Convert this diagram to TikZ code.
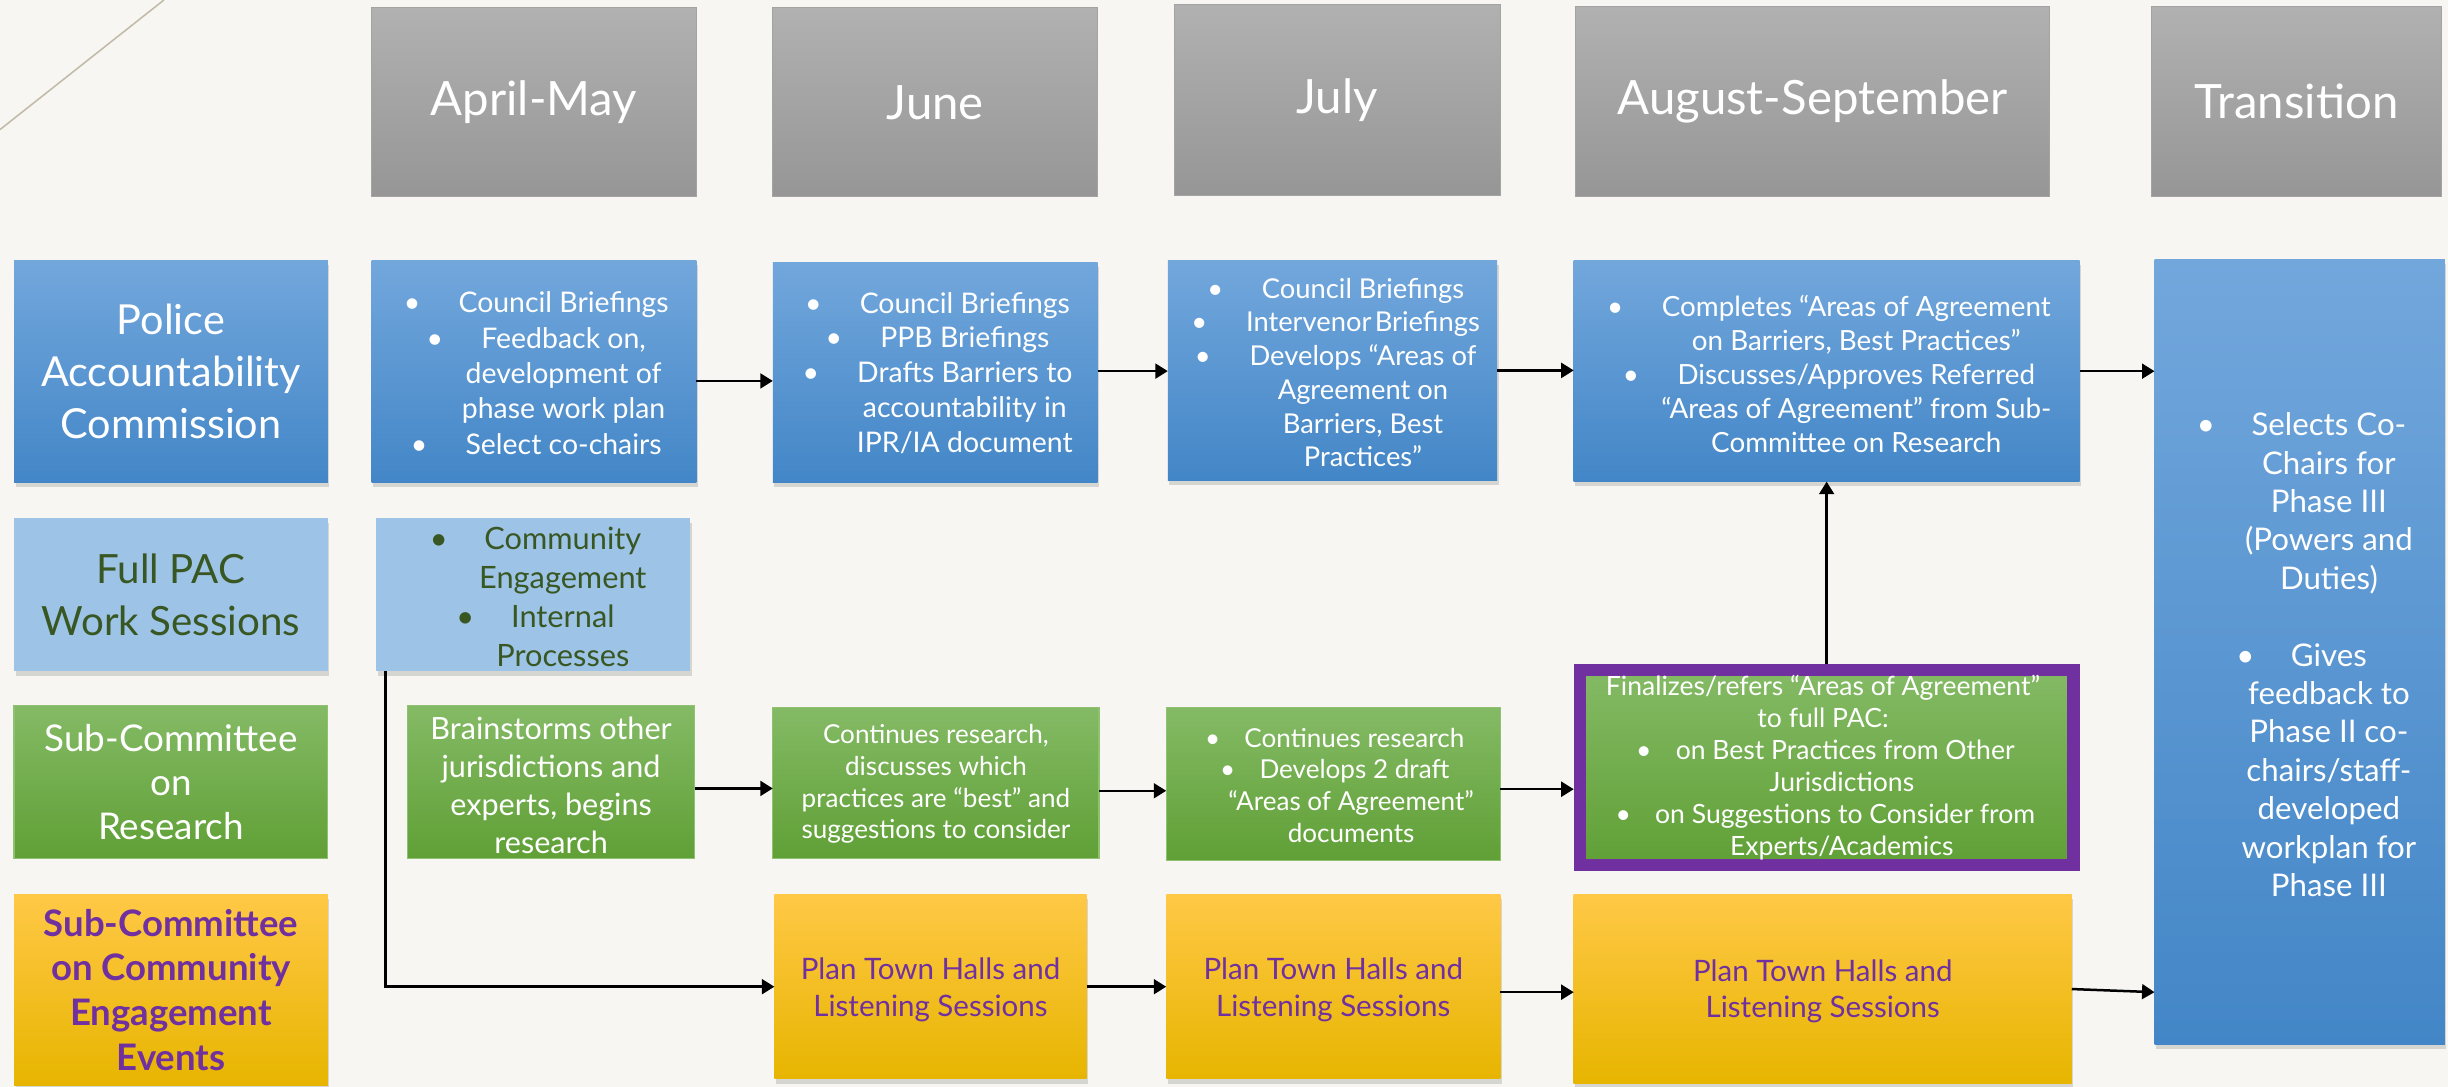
\documentclass[tikz,border=0pt]{standalone}
\usepackage{fontspec}
\setmainfont{Lato}
\usetikzlibrary{arrows.meta,shadows}
\definecolor{bg}{HTML}{F7F6F2}
\definecolor{hdrT}{HTML}{B1B1B1}
\definecolor{hdrB}{HTML}{969696}
\definecolor{hdrL}{HTML}{A3A3A3}
\definecolor{bluT}{HTML}{72A7DC}
\definecolor{bluB}{HTML}{4386C7}
\definecolor{lblu}{HTML}{9DC3E6}
\definecolor{grnT}{HTML}{84BA65}
\definecolor{grnB}{HTML}{60A036}
\definecolor{grnL}{HTML}{8EC270}
\definecolor{ylwT}{HTML}{FFC846}
\definecolor{ylwB}{HTML}{E7B500}
\definecolor{purp}{HTML}{7030A0}
\definecolor{dgrn}{HTML}{385723}
\definecolor{diag}{HTML}{C2BBA8}
\newcommand{\bu}[1][35pt]{\llap{\makebox[#1][l]{\textbullet}}}
\begin{document}
\begin{tikzpicture}[x=1pt,y=-1pt,
  box/.style={inner sep=0pt, outer sep=0pt, anchor=center},
  shad/.style={drop shadow={opacity=0.28, shadow xshift=1pt, shadow yshift=-3pt}},
  hdr/.style={box, shading=axis, top color=hdrT, bottom color=hdrB, draw=hdrL, line width=0.6pt, text=white, font=\fontsize{30.3}{34}\selectfont},
  blu/.style={box, shad, shading=axis, top color=bluT, bottom color=bluB},
  lbl/.style={box, shad, fill=lblu},
  grn/.style={box, shading=axis, top color=grnT, bottom color=grnB, draw=grnL, line width=0.8pt},
  ylw/.style={box, shad, shading=axis, top color=ylwT, bottom color=ylwB},
  txt/.style={inner sep=0pt, outer sep=0pt, align=center, text=white},
  arr/.style={draw=black, line width=1.6pt, -{Triangle[length=8pt,width=9.5pt]}}
]
\useasboundingbox (0,0) rectangle (1568,696);
\fill[bg] (0,0) rectangle (1568,696);
\draw[diag, line width=1pt] (0,83) -- (105,0);

% headers
\node[hdr, minimum width=208pt, minimum height=121pt] (hAM) at (342,65.5) {April-May};
\node[hdr, minimum width=208pt, minimum height=121pt] (hJun) at (599,65.5) {June};
\node[hdr, minimum width=209pt, minimum height=122pt] (hJul) at (856.5,64) {July};
\node[hdr, minimum width=304pt, minimum height=122pt] (hAug) at (1161,65) {August-September};
\node[hdr, minimum width=186pt, minimum height=122pt] (hTr) at (1471,65) {Transition};

% left labels
\node[blu, minimum width=201pt, minimum height=142pt, txt, font=\fontsize{26.5}{33.3}\selectfont] (lPAC) at (109.5,238) {Police\\Accountability\\Commission};
\node[lbl, minimum width=201pt, minimum height=98pt, txt, text=dgrn, font=\fontsize{25.8}{33.5}\selectfont] (lFull) at (109.5,381) {Full PAC\\Work Sessions};
\node[grn, minimum width=201pt, minimum height=98pt, txt, font=\fontsize{23.6}{28.3}\selectfont] (lRes) at (109.5,501) {Sub-Committee\\on\\Research};
\node[ylw, minimum width=201pt, minimum height=122pt, txt, text=purp, font=\bfseries\fontsize{23.4}{28.7}\selectfont] (lEv) at (109.5,634) {Sub-Committee\\on Community\\Engagement\\Events};

% row 1 boxes
\node[blu, minimum width=208pt, minimum height=142pt] (bAM) at (342,238) {};
\node[blu, minimum width=208pt, minimum height=141pt] (bJun) at (599,238.5) {};
\node[blu, minimum width=211pt, minimum height=140.5pt] (bJul) at (853.5,237.25) {};
\node[blu, minimum width=324pt, minimum height=141.5pt] (bAug) at (1170,237.75) {};
\node[blu, minimum width=186pt, minimum height=503pt] (bTr) at (1473,417.5) {};

\node[txt, font=\fontsize{18.2}{22.6}\selectfont] (tAM) at (361,239) {\bu Council Briefings\\\bu Feedback on,\\development of\\phase work plan\\\bu Select co-chairs};
\node[txt, font=\fontsize{18.2}{22.4}\selectfont] (tJun) at (618,239) {\bu Council Briefings\\\bu PPB Briefings\\\bu Drafts Barriers to\\accountability in\\IPR/IA document};
\node[txt, font=\fontsize{17.5}{21.6}\selectfont] (tJul) at (873,238.6) {\bu Council Briefings\\\bu Intervenor\hspace{0.12em}Briefings\\\bu Develops “Areas of\\Agreement on\\Barriers, Best\\Practices”};
\node[txt, font=\fontsize{17.8}{21.7}\selectfont] (tAug) at (1189,239.5) {\bu Completes “Areas of Agreement\\on Barriers, Best Practices”\\\bu Discusses/Approves Referred\\“Areas of Agreement” from Sub-\\Committee on Research};
\node[txt, font=\fontsize{20}{24.6}\selectfont] (tTr) at (1491.7,419.4) {\bu Selects Co-\\Chairs for\\Phase III\\(Powers and\\Duties)\\~\\\bu Gives\\feedback to\\Phase II co-\\chairs/staff-\\developed\\workplan for\\Phase III};

% row 2
\node[lbl, minimum width=201pt, minimum height=98pt] (bCom) at (341.5,381) {};
\node[txt, text=dgrn, font=\fontsize{19.7}{24.8}\selectfont] (tCom) at (360.5,382.3) {\bu Community\\Engagement\\\bu Internal\\Processes};

% row 3
\node[grn, minimum width=184pt, minimum height=98pt] (gBr) at (353,501) {};
\node[txt, font=\fontsize{19.6}{24.2}\selectfont] (tBr) at (353,503) {Brainstorms other\\jurisdictions and\\experts, begins\\research};
\node[grn, minimum width=209pt, minimum height=97pt] (gJun) at (599.5,501.5) {};
\node[txt, font=\fontsize{16.7}{20.3}\selectfont] (tgJun) at (599.5,502.3) {Continues research,\\discusses which\\practices are “best” and\\suggestions to consider};
\node[grn, minimum width=214pt, minimum height=98pt] (gJul) at (854,502) {};
\node[txt, font=\fontsize{16.7}{20.3}\selectfont] (tgJul) at (865.4,503) {\bu[21pt] Continues research\\\bu[21pt] Develops 2 draft\\“Areas of Agreement”\\documents};
\node[box, shading=axis, top color=grnT, bottom color=grnB, draw=purp, line width=8pt, minimum width=316pt, minimum height=125pt, outer sep=4pt] (pur) at (1170,491.5) {};
\node[txt, font=\fontsize{17}{20.5}\selectfont] (tPur) at (1167.7,491.5) {Finalizes/refers “Areas of Agreement”\\to full PAC:\\\hspace*{24pt}\bu[21pt] on Best Practices from Other\\\hspace*{24pt}Jurisdictions\\\hspace*{24pt}\bu[21pt] on Suggestions to Consider from\\\hspace*{24pt}Experts/Academics};

% row 4
\node[ylw, minimum width=200pt, minimum height=118pt] (yJun) at (596,632) {};
\node[txt, text=purp, font=\fontsize{18.9}{23.4}\selectfont] (tyJun) at (596,634) {Plan Town Halls and\\Listening Sessions};
\node[ylw, minimum width=214pt, minimum height=118pt] (yJul) at (854,632) {};
\node[txt, text=purp, font=\fontsize{18.9}{23.4}\selectfont] (tyJul) at (854,634) {Plan Town Halls and\\Listening Sessions};
\node[ylw, minimum width=319pt, minimum height=121pt] (yAug) at (1167.5,633.5) {};
\node[txt, text=purp, font=\fontsize{18.9}{23}\selectfont] (tyAug) at (1167.5,635) {Plan Town Halls and\\Listening Sessions};

% connectors
\draw[arr] ([yshift=-6pt]bAM.east) -- ([yshift=-6pt]bAM.east -| bJun.west);
\draw[arr] ([yshift=0.8pt]bJun.east) -- ([yshift=0.8pt]bJun.east -| bJul.west);
\draw[arr] (bJul.east) -- (bJul.east -| bAug.west);
\draw[arr] (bAug.east) -- (bAug.east -| bTr.west);
\draw[arr] ([xshift=6pt]bCom.south west) |- (yJun.west);
\draw[arr] ([yshift=-4pt]gBr.east) -- ([yshift=-4pt]gBr.east -| gJun.west);
\draw[arr] ([yshift=-5pt]gJun.east) -- ([yshift=-5pt]gJun.east -| gJul.west);
\draw[arr] ([yshift=-3.5pt]gJul.east) -- ([yshift=-3.5pt]gJul.east -| pur.west);
\draw[arr] (pur.north) -- (bAug.south);
\draw[arr] (yJun.east) -- (yJun.east -| yJul.west);
\draw[arr] ([yshift=-3.5pt]yJul.east) -- ([yshift=-3.5pt]yJul.east -| yAug.west);
\draw[arr] (yAug.east) -- ([yshift=-218pt]bTr.west);
\end{tikzpicture}
\end{document}
